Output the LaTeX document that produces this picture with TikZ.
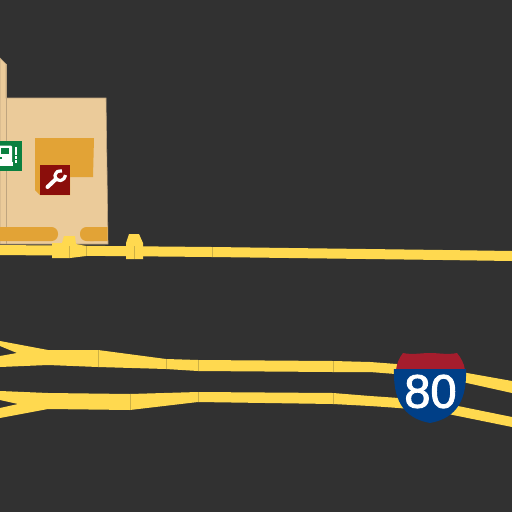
\documentclass[tikz,border=0pt]{standalone}
\usepackage{fontspec}
\setmainfont{Liberation Sans}
\newfontfamily\shieldfont[FakeBold=2]{Liberation Sans}
\definecolor{ground}{HTML}{313131}
\definecolor{landuse}{HTML}{EBCB9A}
\definecolor{landedge}{HTML}{BFA57F}
\definecolor{apron}{HTML}{E2A336}
\definecolor{roadfill}{HTML}{FFD94F}
\definecolor{roadseam}{HTML}{CDB044}
\definecolor{repairred}{HTML}{8B0E0B}
\definecolor{fuelgreen}{HTML}{0B8040}
\definecolor{shieldblue}{HTML}{003F87}
\definecolor{shieldred}{HTML}{A51D2D}
\tikzset{
  building/.style={fill=landuse,draw=landedge,line width=0.6pt},
  lot/.style={fill=apron},
  road/.style={fill=roadfill},
  seam/.style={draw=roadseam,line width=0.4pt},
  icon/.style={draw=white,line cap=round}
}
\begin{document}
\begin{tikzpicture}[x=1pt,y=-1pt]
            \useasboundingbox (0,0) rectangle (512,512);
            \fill[ground] (0,0) rectangle (512,512);
            % buildings
            \fill[building] (0,58) -- (6,64) -- (6,98) -- (106,98) -- (108,244) -- (0,244) -- cycle;
            \draw[landedge,line width=0.6pt] (6,64) -- (6,244);
            % aprons
            \fill[lot] (35,138) -- (94,138) -- (93,177) -- (70,177) -- (70,195) -- (40,195) -- (35,190) -- cycle;
            \fill[lot,rounded corners=6.5pt] (-10,227) rectangle (58,241);
            \fill[lot,rounded corners=6.5pt] (80,227) rectangle (100,241);
            \fill[lot] (90,227) -- (107.6,227) -- (107.7,241) -- (90,241) -- cycle;
            % top road
            \fill[road] (0,245) -- (212,247) -- (443,250) -- (512,251) -- (512,261) -- (443,260) -- (212,257) -- (0,255) -- cycle;
            \fill[road] (52,243) -- (62,243) -- (64,236) -- (75,236) -- (76,244) -- (86,246) -- (86,256) -- (70,258) -- (52,258) -- cycle;
            \fill[road] (126,243) -- (129,234) -- (139,234) -- (143,243) -- (143,259) -- (126,259) -- cycle;
            % lower roads
            \fill[road] (0,341) -- (48,350) -- (98,350) -- (166,359) -- (198,360) -- (333,361) -- (370,362)
                .. controls (410,365) and (440,367) .. (467,373) -- (512,381) -- (512,393) -- (467,383)
                .. controls (440,378) and (410,375) .. (370,372) -- (333,372) -- (198,371) -- (166,369)
                -- (98,367) -- (48,365) -- (0,367) -- (0,356) -- (17,353) -- (0,346) -- cycle;
            \fill[road] (0,391) -- (48,393) -- (130,394) -- (198,392) -- (333,393) -- (370,396)
                .. controls (400,398) and (430,400) .. (453,405) -- (512,417) -- (512,427) -- (453,415)
                .. controls (430,410) and (400,408) .. (370,406) -- (333,404) -- (198,402) -- (130,410)
                -- (48,409) -- (0,418) -- (0,408) -- (18,404) -- (0,400) -- cycle;
            % seams between road pieces
            \foreach \sx/\sa/\sb in {98/350/367, 166/359/369, 198/360/371, 333/361/372, 130/394/410, 198/392/402, 333/393/404, 212/247/257, 86/246/256, 69/246/258, 134/246/259} {
                \draw[seam] (\sx,\sa) -- (\sx,\sb);
            }
            % fuel icon
            \fill[fuelgreen] (-8,141) rectangle (22,171);
            \fill[white,rounded corners=1pt] (-3,145.5) rectangle (12,164);
            \fill[fuelgreen] (1,148) rectangle (9,154);
            \fill[fuelgreen] (-3,157) rectangle (2,159);
            \fill[white] (-3,162) rectangle (13,165.5);
            \draw[icon,line width=2pt,line cap=butt,dash pattern=on 8pt off 1pt on 3pt off 1pt on 3pt] (15.5,147) -- (15.5,164);
            % repair icon
            \fill[repairred] (40,165) rectangle (70,195);
            \draw[icon,line width=4pt] (47.5,187) -- (56,179);
            \draw[icon,line width=3.2pt,line cap=butt] plot[smooth] coordinates {(62,171) (57.5,171.5) (55,175.5) (56.5,179) (60.5,180.5) (64,178.5) (65.5,175)};
            % interstate shield
            \fill[shieldred] (396,370) .. controls (397,363) and (399,358) .. (403,353)
                .. controls (412,355) and (421,353) .. (430,353) .. controls (439,353) and (448,355) .. (457,353)
                .. controls (461,358) and (464,363) .. (465,370) -- cycle;
            \fill[shieldblue] (394,369) -- (466,369) .. controls (467,398) and (458,418) .. (430,423)
                .. controls (402,418) and (393,398) .. (394,369) -- cycle;
            \node[text=white,font=\shieldfont\fontsize{47}{47}\selectfont,inner sep=0pt] (shieldnum) at (430.5,391.5) {80};
        \end{tikzpicture}
\end{document}
